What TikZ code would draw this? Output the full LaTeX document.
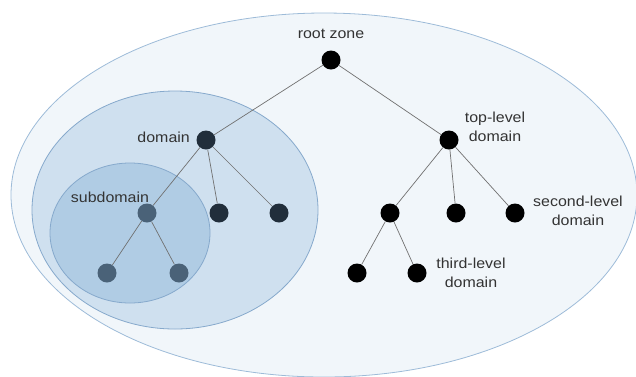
\documentclass[tikz,border=0pt]{standalone}
\usepackage{fontspec}
\setmainfont{Liberation Sans}[FakeStretch=1.1]
\definecolor{outerfill}{HTML}{F1F6FA}
\definecolor{outerline}{HTML}{9DBBD8}
\definecolor{midfill}{HTML}{CFE0EF}
\definecolor{midline}{HTML}{86A9CC}
\definecolor{innerfill}{HTML}{B0CCE4}
\definecolor{innerline}{HTML}{86A9CC}
\definecolor{domcol}{HTML}{212E3B}
\definecolor{subcol}{HTML}{4A6278}
\definecolor{edgecol}{HTML}{707070}
\definecolor{txtcol}{HTML}{333333}
\tikzset{
  dot/.style={circle, minimum size=19pt, inner sep=0pt, fill=black},
  domdot/.style={dot, fill=domcol},
  subdot/.style={dot, fill=subcol},
  lbl/.style={text=txtcol, font=\fontsize{14.5}{19}\selectfont, align=center, inner sep=0pt},
  link/.style={draw=edgecol, line width=0.7pt},
}
\begin{document}
\begin{tikzpicture}[x=1pt,y=-1pt]
\useasboundingbox (0,0) rectangle (636,376);
\begin{scope}
\clip (0,0) rectangle (636,376);
\draw[fill=outerfill, draw=outerline, line width=0.8pt] (324,195) ellipse [x radius=313, y radius=182];
\draw[fill=midfill, draw=midline, line width=0.8pt] (175,210) ellipse [x radius=143, y radius=119];
\draw[fill=innerfill, draw=innerline, line width=0.8pt] (130,233) ellipse [x radius=80, y radius=70];
\end{scope}
% nodes
\node[dot] (root) at (331,60) {};
\node[domdot] (dom) at (206,140) {};
\node[dot] (tld) at (449,140) {};
\node[subdot] (sub) at (147,213) {};
\node[domdot] (d2) at (219,213) {};
\node[domdot] (d3) at (279,213) {};
\node[dot] (t1) at (390,213) {};
\node[dot] (t2) at (456,213) {};
\node[dot] (t3) at (515,213) {};
\node[subdot] (s1) at (107,273) {};
\node[subdot] (s2) at (179,273) {};
\node[dot] (u1) at (357,273) {};
\node[dot] (u2) at (417,273) {};
% edges
\draw[link] (root) -- (dom);
\draw[link] (root) -- (tld);
\draw[link] (dom) -- (sub);
\draw[link] (dom) -- (d2);
\draw[link] (dom) -- (d3);
\draw[link] (tld) -- (t1);
\draw[link] (tld) -- (t2);
\draw[link] (tld) -- (t3);
\draw[link] (sub) -- (s1);
\draw[link] (sub) -- (s2);
\draw[link] (t1) -- (u1);
\draw[link] (t1) -- (u2);
% labels
\node[lbl] (lroot) at (331,34) {root zone};
\node[lbl, anchor=east] (ldom) at (190,137) {domain};
\node[lbl] (lsub) at (110,197) {subdomain};
\node[lbl] (ltld) at (495,127) {top-level\\domain};
\node[lbl] (lsld) at (578,211) {second-level\\domain};
\node[lbl] (lthird) at (471,273) {third-level\\domain};
\end{tikzpicture}
\end{document}
